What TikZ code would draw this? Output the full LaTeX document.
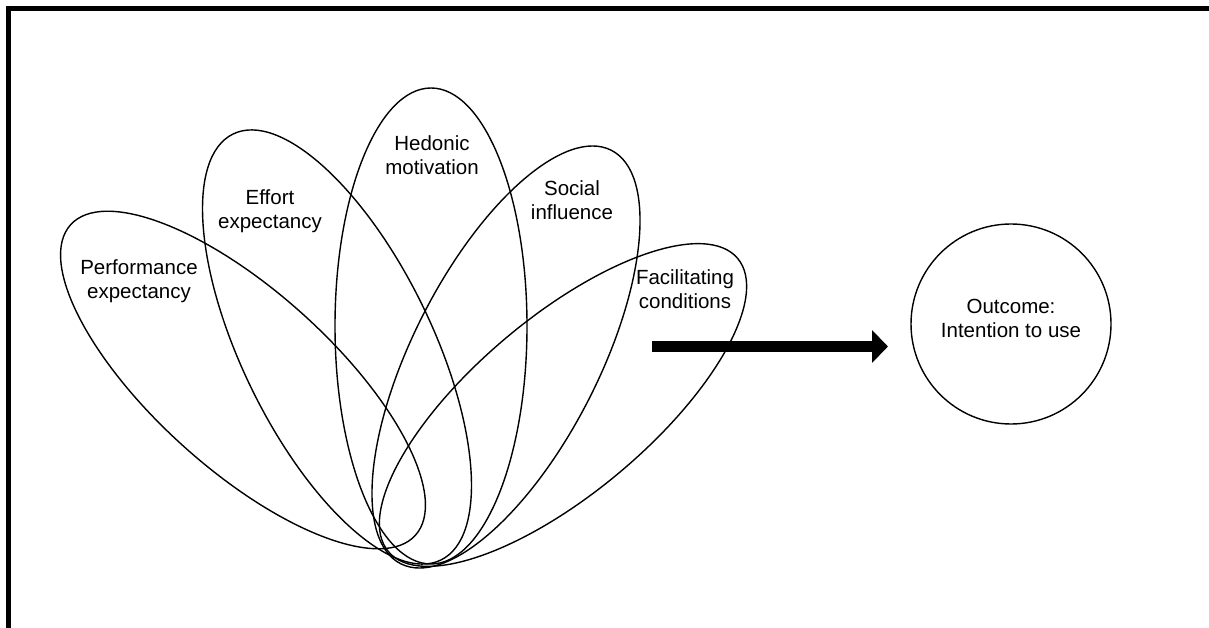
\documentclass[tikz,border=0pt]{standalone}
\usepackage{fontspec}
\setmainfont{Liberation Sans}
\usetikzlibrary{shapes.geometric,arrows.meta}
\tikzset{
  petal/.style={draw=black,line width=1.4pt,ellipse,inner sep=0pt,fill=none},
  lbl/.style={align=center,inner sep=0pt,font=\fontsize{20.5}{24}\selectfont},
  frameline/.style={line width=4.5pt,draw=black},
}
\begin{document}
\begin{tikzpicture}[x=1pt,y=1pt]
\useasboundingbox (0,0) rectangle (1209,627);
\clip (0,0) rectangle (1209,627);
% frame (top and left edges)
\coordinate (fb) at (8.5,-20);
\coordinate (fc) at (8.5,618.5);
\coordinate (fr) at (1230,618.5);
\draw[frameline] (fb) -- (fc) -- (fr);
% petals (y = 627 - image y)
\node[petal,minimum width=464pt,minimum height=178pt,rotate=-42] (e1) at (243,247) {};
\node[petal,minimum width=474pt,minimum height=190pt,rotate=116] (e2) at (337,280) {};
\node[petal,minimum width=476pt,minimum height=192pt,rotate=90] (e3) at (431,301) {};
\node[petal,minimum width=464pt,minimum height=186pt,rotate=63] (e4) at (506,270) {};
\node[petal,minimum width=456pt,minimum height=176pt,rotate=40] (e5) at (563,222) {};
% labels
\node[lbl] (t1) at (139,346) {Performance\\expectancy};
\node[lbl] (t2) at (270,416) {Effort\\expectancy};
\node[lbl] (t3) at (432,472) {Hedonic\\motivation};
\node[lbl] (t4) at (572,427) {Social\\influence};
\node[lbl] (t5) at (685,338) {Facilitating\\conditions};
% outcome
\node[draw=black,line width=1.4pt,circle,minimum size=200pt,inner sep=0pt] (out) at (1011,303) {};
\node[lbl] (t6) at (1011,309) {Outcome:\\Intention to use};
% arrow
\coordinate (a1) at (652,280.5);
\coordinate (a2) at (888,280.5);
\draw[line width=11pt,-{Triangle[length=16pt,width=32pt]}] (a1) -- (a2);
\end{tikzpicture}
\end{document}
